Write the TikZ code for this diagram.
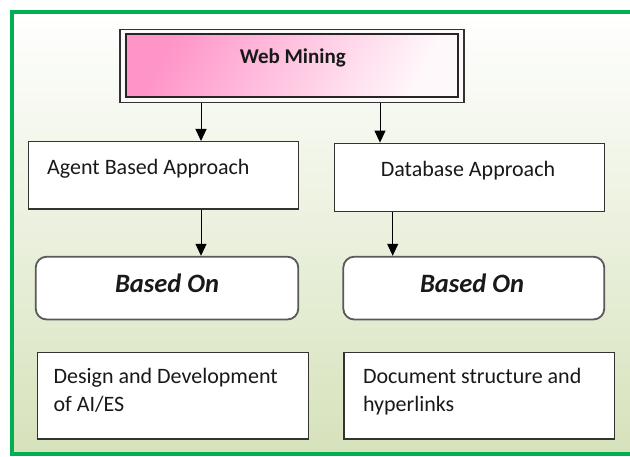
\documentclass[tikz,border=0pt]{standalone}
\usepackage{fontspec}
\setmainfont{Carlito}
\usetikzlibrary{arrows.meta,shadings}
\definecolor{bggreen}{HTML}{D6E2BB}
\definecolor{framegreen}{HTML}{00B050}
\definecolor{pinkA}{HTML}{FF94C8}
\definecolor{pinkB}{HTML}{FFCCE5}
\definecolor{pinkD}{HTML}{FFF8FB}
\begin{document}
\begin{tikzpicture}[x=1pt,y=-1pt,
  box/.style={draw=black!80, line width=1.4pt, fill=white, inner sep=0pt},
  rbox/.style={draw=black!65, line width=1.8pt, fill=white, inner sep=0pt, rounded corners=11pt},
  txt/.style={font=\fontsize{22}{28}\selectfont, text=black!90, inner sep=0pt, align=left},
  bigtxt/.style={font=\fontsize{26.5}{30}\selectfont\bfseries\itshape, text=black!90, inner sep=0pt},
  arr/.style={-{Triangle[width=11pt,length=12pt]}, line width=1pt, black}
]
\useasboundingbox (0,0) rectangle (630,457);
\shade[top color=white, bottom color=bggreen] (12,12) rectangle (642,454);
\draw[framegreen, line width=4.5pt] (12,12) rectangle (642,454);

% Web Mining
\node[draw=black!80, line width=1.5pt, fill=pinkD, minimum width=344pt, minimum height=73.4pt, inner sep=0pt] (wmouter) at (292,66) {};
\node[draw=black!85, line width=2.2pt, inner sep=0pt, minimum width=332.6pt, minimum height=62.4pt,
  shade, top color=pinkA, middle color=pinkB, bottom color=pinkD, shading angle=62] (wminner) at (292,65.5) {};
\node[font=\fontsize{21}{25}\selectfont\bfseries, text=black!90, inner sep=0pt, anchor=base] (wmtext) at (292.8,64) {Web Mining};

% second row
\node[box, minimum width=270pt, minimum height=67.3pt] (agent) at (163.3,175.35) {};
\node[txt, anchor=base west] (agenttext) at (47,175) {Agent Based Approach};
\node[box, minimum width=270pt, minimum height=68.4pt] (db) at (469.3,177.5) {};
\node[txt, anchor=base] (dbtext) at (468,176.5) {Database Approach};

% Based On
\node[rbox, minimum width=262.6pt, minimum height=62.8pt] (basedL) at (167,288.1) {};
\node[bigtxt, anchor=base] (basedLtext) at (167,293) {Based On};
\node[rbox, minimum width=261pt, minimum height=62.8pt] (basedR) at (473.8,288.1) {};
\node[bigtxt, anchor=base] (basedRtext) at (472,293) {Based On};

% bottom row
\node[box, minimum width=271pt, minimum height=86.3pt] (designbox) at (172.8,395.85) {};
\node[txt, anchor=base west] (designtext) at (53.4,411) {Design and Development\\of AI/ES};
\node[box, minimum width=270.3pt, minimum height=86.3pt] (docbox) at (479.15,395.85) {};
\node[txt, anchor=base west] (doctext) at (362.8,411) {Document structure and\\hyperlinks};

% arrows
\draw[arr] (201,0 |- wmouter.south) -- (201,0 |- agent.north);
\draw[arr] (380,0 |- wmouter.south) -- (380,0 |- db.north);
\draw[arr] (201,0 |- agent.south) -- (201,0 |- basedL.north);
\draw[arr] (392.7,0 |- db.south) -- (392.7,0 |- basedR.north);
\end{tikzpicture}
\end{document}
